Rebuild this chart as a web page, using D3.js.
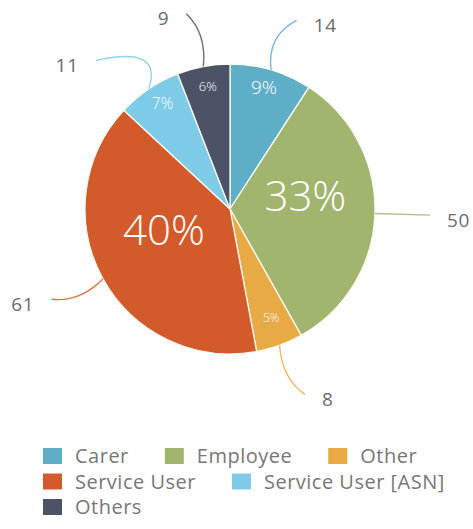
<!DOCTYPE html>
<html>
<head>
<meta charset="utf-8">
<script src="https://d3js.org/d3.v7.min.js"></script>
<style>
  body { margin: 0; background: #fff; }
  text { font-family: "Open Sans", sans-serif; }
</style>
</head>
<body>
<div id="vis"></div>
<script>

// data
var categories = ["Carer", "Employee", "Other", "Service User", "Service User [ASN]", "Others"];
var values = [14, 50, 8, 61, 11, 9];
var colors = ["#5eaec8", "#a2b56f", "#e8aa45", "#d35a2a", "#7ecbe8", "#4d5366"];

// how much each leader line bends (degrees)
var leaderBend = [3, 0, -2, 2, -8, -2];

var width = 473, height = 529;
var cx = 230, cy = 209, radius = 145;

var svg = d3.select("#vis").append("svg")
  .attr("width", width)
  .attr("height", height);

var total = d3.sum(values);
var slices = categories.map(function(c, i) {
  return {name: c, value: values[i], color: colors[i], bend: leaderBend[i]};
});

var pie = d3.pie().sort(null).value(function(d) { return d.value; });
var arc = d3.arc().innerRadius(0).outerRadius(radius);
var arcs = pie(slices);

var g = svg.append("g").attr("transform", "translate(" + cx + "," + cy + ")");

g.selectAll("path.slice")
  .data(arcs)
  .enter().append("path")
  .attr("class", "slice")
  .attr("d", arc)
  .attr("fill", function(d) { return d.data.color; })
  .attr("stroke", "#fbfbf4")
  .attr("stroke-width", 1.3);

// percentage labels, bigger for bigger slices
var fontScale = d3.scaleLinear().domain([8, 14, 50]).range([12, 19, 42]).clamp(true);
var labelRadius = d3.scaleThreshold().domain([30]).range([radius * 0.83, radius * 0.52]);

function polar(angle, r) {
  return [Math.sin(angle) * r, -Math.cos(angle) * r];
}

g.selectAll("text.pct")
  .data(arcs)
  .enter().append("text")
  .attr("class", "pct")
  .attr("text-anchor", "middle")
  .attr("fill", "#fff")
  .attr("font-weight", 300)
  .attr("font-size", function(d) { return fontScale(d.value); })
  .attr("x", function(d) {
    var mid = (d.startAngle + d.endAngle) / 2;
    return polar(mid, labelRadius(fontScale(d.value)))[0];
  })
  .attr("y", function(d) {
    var mid = (d.startAngle + d.endAngle) / 2;
    return polar(mid, labelRadius(fontScale(d.value)))[1];
  })
  .text(function(d) { return Math.round(d.value / total * 100) + "%"; });

// leader lines with the counts
var rad = Math.PI / 180;
arcs.forEach(function(d) {
  var mid = (d.startAngle + d.endAngle) / 2;
  var p0 = polar(mid, radius);
  var p1 = polar(mid - d.data.bend * 1.5 * rad, radius + 32);
  var p2 = polar(mid + d.data.bend * rad, radius + 55);
  var path = d3.path();
  path.moveTo(p0[0], p0[1]);
  path.quadraticCurveTo(p1[0], p1[1], p2[0], p2[1]);
  g.append("path")
    .attr("d", path.toString())
    .attr("fill", "none")
    .attr("stroke", d.data.color)
    .attr("stroke-opacity", 0.85)
    .attr("stroke-width", 1.4);

  var right = p2[0] >= 0;
  g.append("text")
    .attr("x", p2[0] + (right ? 17 : -17))
    .attr("y", p2[1] + 5)
    .attr("dy", "0.35em")
    .attr("text-anchor", right ? "start" : "end")
    .attr("font-size", 19)
    .attr("letter-spacing", 0.8)
    .attr("fill", "#6b6b6b")
    .text(d.value);
});

// legend, flowing into rows
var legend = svg.append("g");
var lx = 43, ly = 456, rowH = 25.5, maxX = 466;
slices.forEach(function(d) {
  var item = legend.append("g");
  item.append("rect")
    .attr("width", 19).attr("height", 16)
    .attr("y", -8)
    .attr("fill", d.color);
  var t = item.append("text")
    .attr("x", 32)
    .attr("dy", "0.35em")
    .attr("font-size", 20)
    .attr("letter-spacing", 0.5)
    .attr("fill", "#777")
    .text(d.name);
  var w = 32 + t.node().getComputedTextLength();
  if (lx + w > maxX) { lx = 43; ly += rowH; }
  item.attr("transform", "translate(" + lx + "," + ly + ")");
  lx += w + 36;
});

</script>
</body>
</html>
